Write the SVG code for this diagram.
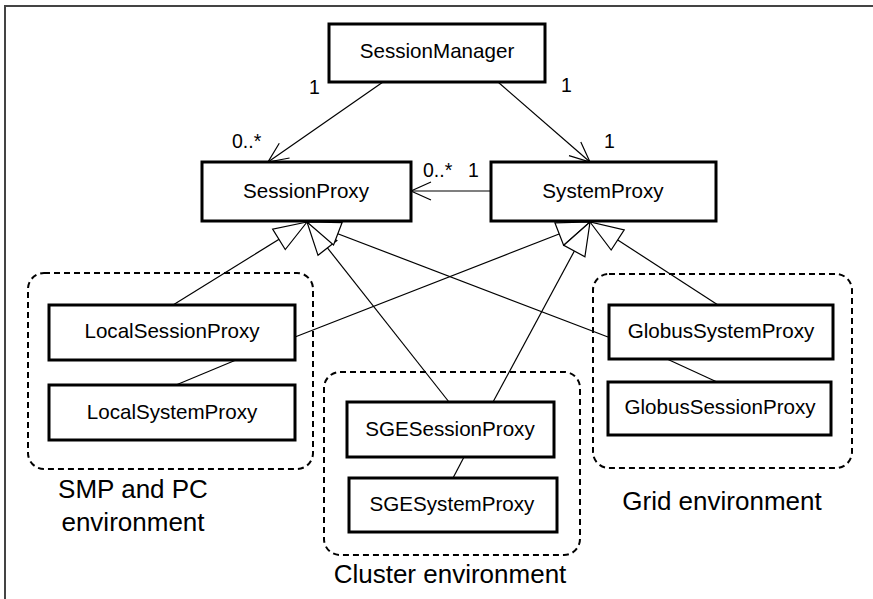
<svg xmlns="http://www.w3.org/2000/svg" width="873" height="599" viewBox="0 0 873 599">
<style>
.box{fill:#fff;stroke:#000;stroke-width:3}
.grp{fill:none;stroke:#000;stroke-width:2;stroke-dasharray:6 4}
.nt{font-family:"Liberation Sans",Arial,sans-serif;font-size:20.6px;text-anchor:middle;fill:#000}
.et{font-family:"Liberation Sans",Arial,sans-serif;font-size:26px;text-anchor:middle;fill:#000}
.mt{font-family:"Liberation Sans",Arial,sans-serif;font-size:19.5px;fill:#000}
.assoc{fill:none;stroke:#000;stroke-width:1.2}
.gen{fill:none;stroke:#000;stroke-width:1.2;marker-end:url(#tri)}
.link{fill:none;stroke:#000;stroke-width:1.2}
</style>
<defs>
<marker id="open" viewBox="-22 -11 24 22" refX="0" refY="0" markerWidth="24" markerHeight="22" markerUnits="userSpaceOnUse" orient="auto">
<path d="M-20,-9 L0,0 L-20,9" fill="none" stroke="#000" stroke-width="1.2"/>
</marker>
<marker id="tri" viewBox="-35 -14 37 28" refX="0" refY="0" markerWidth="37" markerHeight="28" markerUnits="userSpaceOnUse" orient="auto">
<path d="M0,0 L-33,-12 L-33,12 Z" fill="#fff" stroke="#000" stroke-width="1.2"/>
</marker>
</defs>
<rect width="873" height="599" fill="#fff"/>
<path d="M5,599 L5,6 L873,6" fill="none" stroke="#444" stroke-width="2"/>

<g id="groups">
<g id="smp-env">
<rect class="grp" x="28" y="273" width="285" height="196" rx="16"/>
<text class="et" x="133" y="498">SMP and PC</text>
<text class="et" x="133" y="531">environment</text>
</g>
<g id="cluster-env">
<rect class="grp" x="324" y="372" width="256" height="183" rx="16"/>
<text class="et" x="450" y="583">Cluster environment</text>
</g>
<g id="grid-env">
<rect class="grp" x="593" y="274" width="259" height="194" rx="16"/>
<text class="et" x="722" y="510">Grid environment</text>
</g>
</g>

<g id="connectors">
<line class="assoc" x1="383" y1="82" x2="268" y2="162" marker-end="url(#open)"/>
<line class="assoc" x1="498" y1="82" x2="590" y2="162" marker-end="url(#open)"/>
<line class="assoc" x1="491" y1="191" x2="411" y2="191" marker-end="url(#open)"/>
<line class="gen" x1="173" y1="305" x2="307" y2="222"/>
<line class="gen" x1="295" y1="337" x2="590" y2="222"/>
<line class="gen" x1="449" y1="402" x2="307" y2="222"/>
<line class="gen" x1="493" y1="402" x2="590" y2="222"/>
<line class="gen" x1="608" y1="337" x2="307" y2="222"/>
<line class="gen" x1="718" y1="305" x2="590" y2="222"/>
<line class="link" x1="236" y1="360" x2="176" y2="385"/>
<line class="link" x1="464" y1="457" x2="453" y2="478"/>
<line class="link" x1="667" y1="359" x2="717" y2="382"/>
<text class="mt" x="309" y="94">1</text>
<text class="mt" x="232" y="148">0..*</text>
<text class="mt" x="561" y="92">1</text>
<text class="mt" x="604" y="148">1</text>
<text class="mt" x="423" y="177">0..*</text>
<text class="mt" x="468" y="177">1</text>
</g>

<g id="SessionManager">
<rect class="box" x="329" y="24" width="216" height="58"/>
<text class="nt" x="437" y="58">SessionManager</text>
</g>
<g id="SessionProxy">
<rect class="box" x="202" y="162" width="209" height="59"/>
<text class="nt" x="306" y="198">SessionProxy</text>
</g>
<g id="SystemProxy">
<rect class="box" x="491" y="162" width="225" height="59"/>
<text class="nt" x="603" y="198">SystemProxy</text>
</g>
<g id="LocalSessionProxy">
<rect class="box" x="49" y="305" width="246" height="55"/>
<text class="nt" x="172" y="338">LocalSessionProxy</text>
</g>
<g id="LocalSystemProxy">
<rect class="box" x="49" y="385" width="246" height="55"/>
<text class="nt" x="172" y="419">LocalSystemProxy</text>
</g>
<g id="SGESessionProxy">
<rect class="box" x="347" y="402" width="207" height="55"/>
<text class="nt" x="450" y="436">SGESessionProxy</text>
</g>
<g id="SGESystemProxy">
<rect class="box" x="349" y="478" width="208" height="54"/>
<text class="nt" x="452" y="511">SGESystemProxy</text>
</g>
<g id="GlobusSystemProxy">
<rect class="box" x="609" y="305" width="224" height="54"/>
<text class="nt" x="721" y="338">GlobusSystemProxy</text>
</g>
<g id="GlobusSessionProxy">
<rect class="box" x="608" y="382" width="223" height="53"/>
<text class="nt" x="720" y="414">GlobusSessionProxy</text>
</g>
</svg>
